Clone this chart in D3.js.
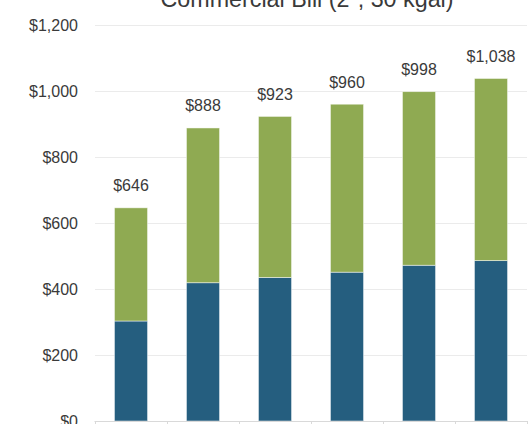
<!DOCTYPE html>
<html>
<head>
<meta charset="utf-8">
<script src="https://cdn.jsdelivr.net/npm/d3@7"></script>
<style>
html,body{margin:0;padding:0;background:#fff;}
svg{display:block;}
</style>
</head>
<body>
<svg id="chart" width="530" height="424"></svg>
<script>
const title = 'Commercial Bill (2", 30 kgal)';
const categories = ["Year 1", "Year 2", "Year 3", "Year 4", "Year 5", "Year 6"];
const baseCharge = [303, 419, 435, 451, 472, 486];
const volumeCharge = [343, 469, 488, 509, 526, 552];
const totals = [646, 888, 923, 960, 998, 1038];
const yTicks = [0, 200, 400, 600, 800, 1000, 1200];
const seriesNames = ["Base", "Volume"];
const colors = ["#255E7F", "#8FAA52"];

const svg = d3.select("#chart");
const fmt = v => "$" + d3.format(",")(v);

const x = d3.scaleBand().domain(categories).range([95, 527]).paddingInner(0.54).paddingOuter(0.27);
const y = d3.scaleLinear().domain([0, 1200]).range([421, 25]);

// gridlines
svg.append("g").selectAll("line").data(yTicks.filter(d => d > 0)).join("line")
  .attr("x1", 95).attr("x2", 527)
  .attr("y1", d => Math.round(y(d)) + 0.5).attr("y2", d => Math.round(y(d)) + 0.5)
  .attr("stroke", "#ebebeb").attr("stroke-width", 1);

// y labels
svg.append("g").selectAll("text").data(yTicks).join("text")
  .attr("x", 78).attr("y", d => y(d)).attr("dy", "0.35em")
  .attr("text-anchor", "end")
  .attr("font-family", "Liberation Sans, Arial, sans-serif")
  .attr("font-size", 16).attr("fill", "#3a3a3a")
  .text(fmt);

// stacked data
const rows = categories.map((c, i) => ({cat: c, base: baseCharge[i], volume: volumeCharge[i]}));
const stack = d3.stack().keys(["base", "volume"])(rows);

svg.append("g").selectAll("g").data(stack).join("g")
  .attr("fill", (d, i) => colors[i])
  .selectAll("rect").data(d => d).join("rect")
  .attr("x", d => x(d.data.cat))
  .attr("width", x.bandwidth())
  .attr("y", d => y(d[1]))
  .attr("height", d => y(d[0]) - y(d[1]))
  .attr("stroke", "#ffffff").attr("stroke-opacity", 0.6).attr("stroke-width", 0.8);

// axis line + ticks
const axis = svg.append("g");
axis.append("line").attr("x1", 94.5).attr("x2", 527).attr("y1", 421.5).attr("y2", 421.5)
  .attr("stroke", "#d9d9d9").attr("stroke-width", 1);
const bounds = categories.map(c => x(c) - x.step() * x.paddingInner() / 2);
bounds.push(x(categories[categories.length - 1]) + x.bandwidth() + x.step() * x.paddingInner() / 2);
axis.selectAll("line.tk").data(bounds).join("line").attr("class", "tk")
  .attr("x1", d => Math.round(d) + 0.5).attr("x2", d => Math.round(d) + 0.5)
  .attr("y1", 421).attr("y2", 426)
  .attr("stroke", "#d9d9d9");

// total labels
svg.append("g").selectAll("text").data(totals).join("text")
  .attr("x", (d, i) => x(categories[i]) + x.bandwidth() / 2)
  .attr("y", d => y(d) - 16.5)
  .attr("text-anchor", "middle")
  .attr("font-family", "Liberation Sans, Arial, sans-serif")
  .attr("font-size", 16).attr("fill", "#3a3a3a")
  .text(fmt);

// title
svg.append("text").attr("x", 307).attr("y", 7)
  .attr("text-anchor", "middle")
  .attr("font-family", "Liberation Sans, Arial, sans-serif")
  .attr("font-size", 23.3).attr("fill", "#3a3a3a")
  .text(title);
</script>
</body>
</html>
